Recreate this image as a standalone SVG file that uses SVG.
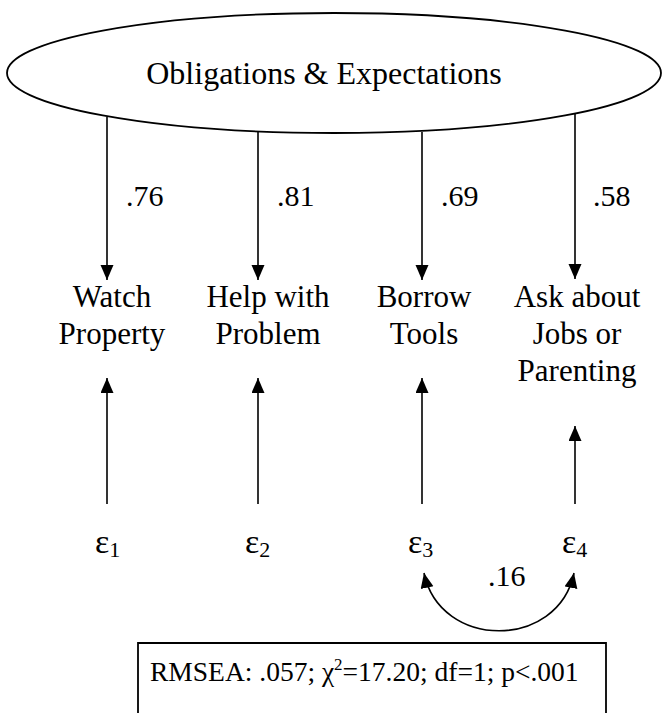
<svg xmlns="http://www.w3.org/2000/svg" width="670" height="713" viewBox="0 0 670 713">
  <style>
    text { font-family: "Liberation Serif", "Times New Roman", serif; fill: #000; }
    .lbl { font-size: 31px; text-anchor: middle; }
    .coef { font-size: 30px; }
    .eps { font-size: 34px; }
    .sub { font-size: 22px; }
    .title { font-size: 32px; text-anchor: middle; }
    .fit { font-size: 27.5px; }
    .edge { fill: none; stroke: #000; stroke-width: 1.6; }
  </style>
  <defs>
    <marker id="head" markerUnits="userSpaceOnUse" markerWidth="16" markerHeight="14" refX="15" refY="6.5" orient="auto-start-reverse">
      <path d="M0,0 L15,6.5 L0,13 z" fill="#000"/>
    </marker>
  </defs>

  <rect width="670" height="713" fill="#fff"/>

  <!-- latent factor -->
  <g id="factor">
    <ellipse cx="334" cy="73" rx="327" ry="60" fill="#fff" stroke="#000" stroke-width="1.8"/>
    <text class="title" x="324" y="84">Obligations &amp; Expectations</text>
  </g>

  <!-- observed indicators -->
  <g id="watch">
    <text class="lbl" x="112" y="307">Watch</text>
    <text class="lbl" x="112" y="344">Property</text>
  </g>
  <g id="help">
    <text class="lbl" x="268" y="307">Help with</text>
    <text class="lbl" x="268" y="344">Problem</text>
  </g>
  <g id="borrow">
    <text class="lbl" x="424" y="307">Borrow</text>
    <text class="lbl" x="424" y="344">Tools</text>
  </g>
  <g id="ask">
    <text class="lbl" x="577" y="307">Ask about</text>
    <text class="lbl" x="577" y="344">Jobs or</text>
    <text class="lbl" x="577" y="381">Parenting</text>
  </g>

  <!-- error terms -->
  <g id="e1"><text class="eps" x="95" y="553">ε<tspan class="sub" dy="4">1</tspan></text></g>
  <g id="e2"><text class="eps" x="245" y="553">ε<tspan class="sub" dy="4">2</tspan></text></g>
  <g id="e3"><text class="eps" x="408" y="553">ε<tspan class="sub" dy="4">3</tspan></text></g>
  <g id="e4"><text class="eps" x="562" y="553">ε<tspan class="sub" dy="4">4</tspan></text></g>

  <!-- paths -->
  <g id="connectors">
    <line class="edge" x1="107" y1="117" x2="107" y2="280" marker-end="url(#head)"/>
    <line class="edge" x1="258" y1="132" x2="258" y2="280" marker-end="url(#head)"/>
    <line class="edge" x1="422" y1="132" x2="422" y2="280" marker-end="url(#head)"/>
    <line class="edge" x1="575" y1="114" x2="575" y2="279" marker-end="url(#head)"/>

    <line class="edge" x1="107" y1="504" x2="107" y2="378" marker-end="url(#head)"/>
    <line class="edge" x1="258" y1="504" x2="258" y2="378" marker-end="url(#head)"/>
    <line class="edge" x1="422" y1="504" x2="422" y2="378" marker-end="url(#head)"/>
    <line class="edge" x1="575" y1="504" x2="575" y2="426" marker-end="url(#head)"/>

    <path class="edge" d="M424,573 C440,650 558,650 574,573" marker-start="url(#head)" marker-end="url(#head)"/>

    <text class="coef" x="126" y="206">.76</text>
    <text class="coef" x="277" y="206">.81</text>
    <text class="coef" x="441" y="206">.69</text>
    <text class="coef" x="593" y="206">.58</text>
    <text class="coef" x="488" y="586">.16</text>
  </g>

  <!-- fit statistics box (runs off the lower edge) -->
  <g id="fit">
    <path d="M138,713 V643 H606 V713" fill="none" stroke="#000" stroke-width="1.8"/>
    <text class="fit" x="150" y="681">RMSEA: .057; χ<tspan font-size="17" dy="-11">2</tspan><tspan dy="11">=17.20; df=1; p&lt;.001</tspan></text>
  </g>
</svg>
